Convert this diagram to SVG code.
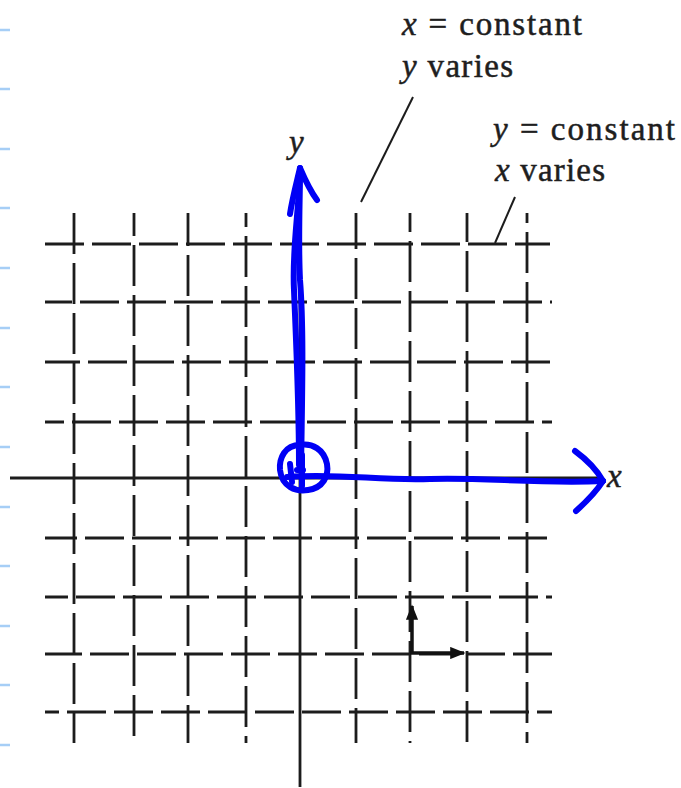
<svg xmlns="http://www.w3.org/2000/svg" width="681" height="788" viewBox="0 0 681 788">
<style>
.bg{fill:#ffffff}
.margin line{stroke:#a6cef6;stroke-width:2.5}
.h{stroke:#1c1c1c;stroke-width:2.8;fill:none;stroke-dasharray:39 8}
.v{stroke:#1c1c1c;stroke-width:2.8;fill:none;stroke-dasharray:41 9}
.axis{stroke:#1c1c1c;stroke-width:2.8;fill:none}
.lead{stroke:#1c1c1c;stroke-width:2;fill:none}
.lbl{font-family:"Liberation Serif","Times New Roman",serif;font-size:33px;fill:#1e1e1e;stroke:#1e1e1e;stroke-width:0.5}
.it{font-style:italic}
.blue{stroke:#0000f5;stroke-width:6;fill:none;stroke-linecap:round;stroke-linejoin:round}
.small{stroke:#111;stroke-width:3.5;fill:none}
</style>
<defs>
<marker id="ah" viewBox="0 0 10 8" refX="9" refY="4" markerWidth="4.4" markerHeight="3.5" orient="auto" markerUnits="strokeWidth">
<path d="M0,0 L10,4 L0,8 Z" fill="#111"/>
</marker>
</defs>
<rect class="bg" x="0" y="0" width="681" height="788"/>
<g id="margin" class="margin">
<line x1="0" y1="30" x2="10" y2="30"/>
<line x1="0" y1="89" x2="10" y2="89"/>
<line x1="0" y1="149" x2="10" y2="149"/>
<line x1="0" y1="208" x2="10" y2="208"/>
<line x1="0" y1="268" x2="10" y2="268"/>
<line x1="0" y1="328" x2="10" y2="328"/>
<line x1="0" y1="387" x2="10" y2="387"/>
<line x1="0" y1="447" x2="10" y2="447"/>
<line x1="0" y1="507" x2="10" y2="507"/>
<line x1="0" y1="566" x2="10" y2="566"/>
<line x1="0" y1="626" x2="10" y2="626"/>
<line x1="0" y1="685" x2="10" y2="685"/>
<line x1="0" y1="745" x2="10" y2="745"/>
</g>
<g id="grid">
<line class="h" x1="45" y1="244" x2="550" y2="244" stroke-dashoffset="0"/>
<line class="h" x1="45" y1="302" x2="552" y2="302" stroke-dashoffset="12"/>
<line class="h" x1="45" y1="362" x2="552" y2="362" stroke-dashoffset="4"/>
<line class="h" x1="45" y1="422" x2="552" y2="422" stroke-dashoffset="20"/>
<line class="h" x1="45" y1="538" x2="552" y2="538" stroke-dashoffset="7"/>
<line class="h" x1="45" y1="597" x2="552" y2="597" stroke-dashoffset="16"/>
<line class="h" x1="45" y1="654" x2="552" y2="654" stroke-dashoffset="2"/>
<line class="h" x1="45" y1="712" x2="552" y2="712" stroke-dashoffset="25"/>
<line class="v" x1="74" y1="213" x2="74" y2="743" stroke-dashoffset="0"/>
<line class="v" x1="134" y1="213" x2="134" y2="743" stroke-dashoffset="18"/>
<line class="v" x1="188" y1="213" x2="188" y2="743" stroke-dashoffset="8"/>
<line class="v" x1="246" y1="213" x2="246" y2="743" stroke-dashoffset="27"/>
<line class="v" x1="356" y1="213" x2="356" y2="743" stroke-dashoffset="5"/>
<line class="v" x1="410" y1="213" x2="410" y2="743" stroke-dashoffset="22"/>
<line class="v" x1="467" y1="213" x2="467" y2="743" stroke-dashoffset="12"/>
<line class="v" x1="527" y1="213" x2="527" y2="743" stroke-dashoffset="31"/>
</g>
<g id="axes">
<line class="axis" x1="10" y1="478" x2="600" y2="478"/>
<line class="axis" x1="300" y1="190" x2="300" y2="787"/>
</g>
<g id="labels">
<text class="lbl" x="402" y="35" textLength="180" lengthAdjust="spacing"><tspan class="it">x</tspan> = constant</text>
<text class="lbl" x="402" y="77" textLength="111" lengthAdjust="spacing"><tspan class="it">y</tspan> varies</text>
<text class="lbl" x="493" y="140" textLength="182" lengthAdjust="spacing"><tspan class="it">y</tspan> = constant</text>
<text class="lbl" x="495" y="181" textLength="110" lengthAdjust="spacing"><tspan class="it">x</tspan> varies</text>
<text class="lbl it" x="289" y="153">y</text>
<text class="lbl it" x="607" y="487">x</text>
</g>
<g id="connectors">
<line class="lead" x1="413" y1="97" x2="361" y2="202"/>
<line class="lead" x1="515" y1="197" x2="495" y2="243"/>
<path class="small" d="M412,653 L412,606" marker-end="url(#ah)"/>
<path class="small" d="M410,653 L464,653" marker-end="url(#ah)"/>
</g>
<g id="blue-annotation">
<path class="blue" d="M301,470 C302,400 304,330 300,280 C298,240 300,200 300,170"/>
<path class="blue" d="M300,172 C298,220 292,250 294,290 C296,340 299,400 299,465"/>
<path class="blue" d="M300,168 C296,185 292,200 290,214"/>
<path class="blue" d="M300,168 C306,182 311,192 317,200"/>
<path class="blue" d="M300,445 C285,445 279,458 280,470 C282,487 296,492 308,490 C323,488 329,476 327,464 C324,449 312,443 300,445 Z"/>
<path class="blue" d="M290,464 L292,482 M297,470 L303,470 M302,455 L302,486"/>
<path class="blue" d="M287,477 C340,473 380,481 430,479 C480,477 540,484 603,481"/>
<path class="blue" d="M575,451 C590,462 598,472 603,481"/>
<path class="blue" d="M603,481 C596,492 586,502 576,511"/>
</g>
</svg>
